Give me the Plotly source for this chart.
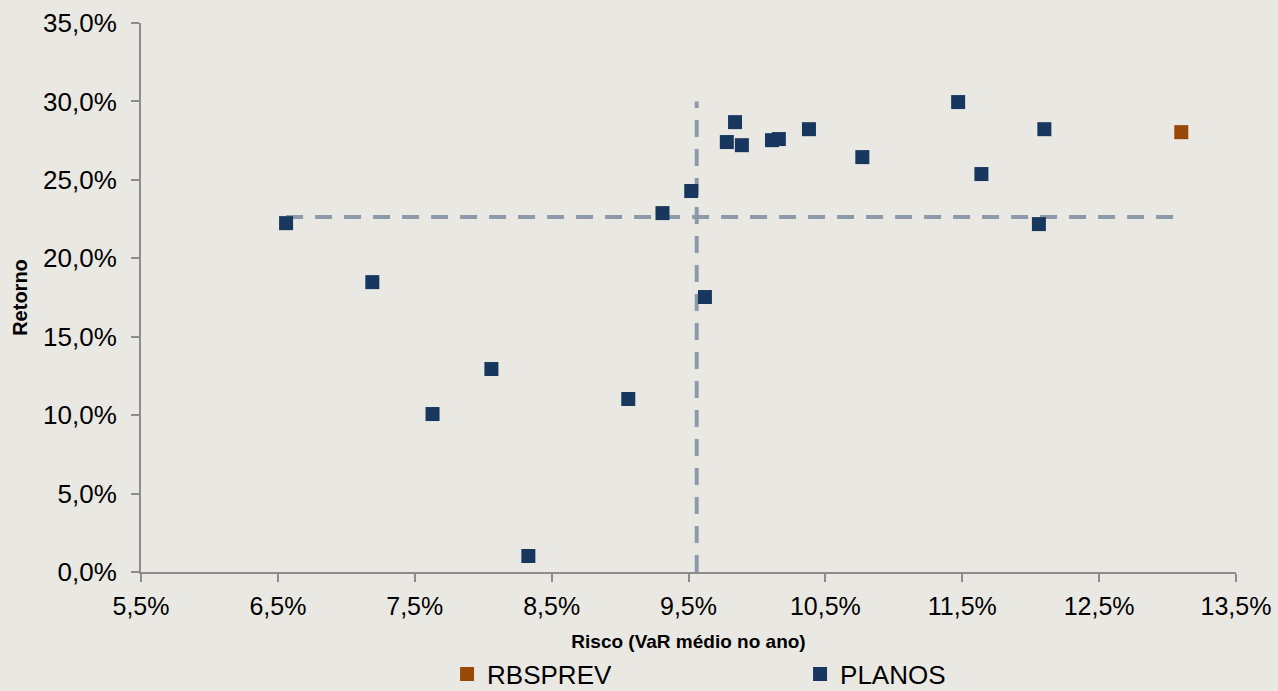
import plotly.graph_objects as go

# Risk (VaR) / return of each plan, in fractions
planos_risco = [0.0656, 0.0719, 0.0763, 0.0806, 0.0833, 0.0906, 0.0931, 0.0952,
                0.0962, 0.0978, 0.0984, 0.0989, 0.1011, 0.1016, 0.1038, 0.1077,
                0.1147, 0.1164, 0.1206, 0.1210]
planos_retorno = [0.2224, 0.1848, 0.1007, 0.1294, 0.0102, 0.1103, 0.2288, 0.2429,
                  0.1753, 0.2741, 0.2868, 0.2721, 0.2753, 0.2760, 0.2823, 0.2645,
                  0.2996, 0.2537, 0.2218, 0.2823]

rbsprev_risco = [0.1310]
rbsprev_retorno = [0.2804]

# average reference lines
media_x_risco = [0.0956, 0.0956]
media_x_retorno = [0.0, 0.30]
media_y_risco = [0.0656, 0.1306]
media_y_retorno = [0.2263, 0.2263]

x_ticks = [0.055, 0.065, 0.075, 0.085, 0.095, 0.105, 0.115, 0.125, 0.135]
y_ticks = [0.0, 0.05, 0.10, 0.15, 0.20, 0.25, 0.30, 0.35]

NAVY = "#17375E"
ORANGE = "#984807"
DASH = "#8E9AAA"
AXIS = "#8C8C8C"
FONT = "Liberation Sans, Arial, sans-serif"

fig = go.Figure()

dash_line = dict(color=DASH, width=4, dash="17px,12px")
fig.add_trace(go.Scatter(x=media_x_risco, y=media_x_retorno, mode="lines",
                         line=dash_line, showlegend=False, hoverinfo="skip"))
fig.add_trace(go.Scatter(x=media_y_risco, y=media_y_retorno, mode="lines",
                         line=dash_line, showlegend=False, hoverinfo="skip"))

fig.add_trace(go.Scatter(
    x=rbsprev_risco, y=rbsprev_retorno, mode="markers", name="RBSPREV",
    marker=dict(symbol="square", size=14, color=ORANGE),
))
fig.add_trace(go.Scatter(
    x=planos_risco, y=planos_retorno, mode="markers", name="PLANOS",
    marker=dict(symbol="square", size=14, color=NAVY),
))

fig.update_layout(
    width=1278,
    height=691,
    separators=",.",
    paper_bgcolor="#EAE8E3",
    plot_bgcolor="rgba(0,0,0,0)",
    font=dict(family=FONT, color="#000000", size=24),
    margin=dict(l=141, r=42, t=23, b=119, autoexpand=False),
    xaxis=dict(
        range=[0.055, 0.135],
        tickvals=x_ticks,
        tickformat=".1%",
        automargin=False,
        showgrid=False,
        zeroline=False,
        showline=True,
        linecolor=AXIS,
        linewidth=2,
        ticks="outside",
        ticklen=8,
        tickcolor=AXIS,
        tickwidth=2,
        tickfont=dict(size=25),
        ticklabelstandoff=3,
        title=dict(text="<b>Risco (VaR médio no ano)</b>", font=dict(size=19), standoff=16),
    ),
    yaxis=dict(
        range=[0, 0.35],
        tickvals=y_ticks,
        tickformat=".1%",
        automargin=False,
        showgrid=False,
        zeroline=False,
        showline=True,
        linecolor=AXIS,
        linewidth=2,
        ticks="outside",
        ticklen=8,
        tickcolor=AXIS,
        tickwidth=2,
        tickfont=dict(size=26),
        ticklabelstandoff=9,
        title=dict(text="<b>Retorno</b>", font=dict(size=20), standoff=10),
    ),
    legend=dict(
        orientation="h",
        x=0.2795,
        xanchor="left",
        y=-0.1858,
        yanchor="middle",
        font=dict(size=26),
        entrywidth=308,
        entrywidthmode="pixels",
        bgcolor="rgba(0,0,0,0)",
    ),
)

fig.write_html("out.html", config={"displayModeBar": False},
               post_script="document.body.style.margin='0';")
